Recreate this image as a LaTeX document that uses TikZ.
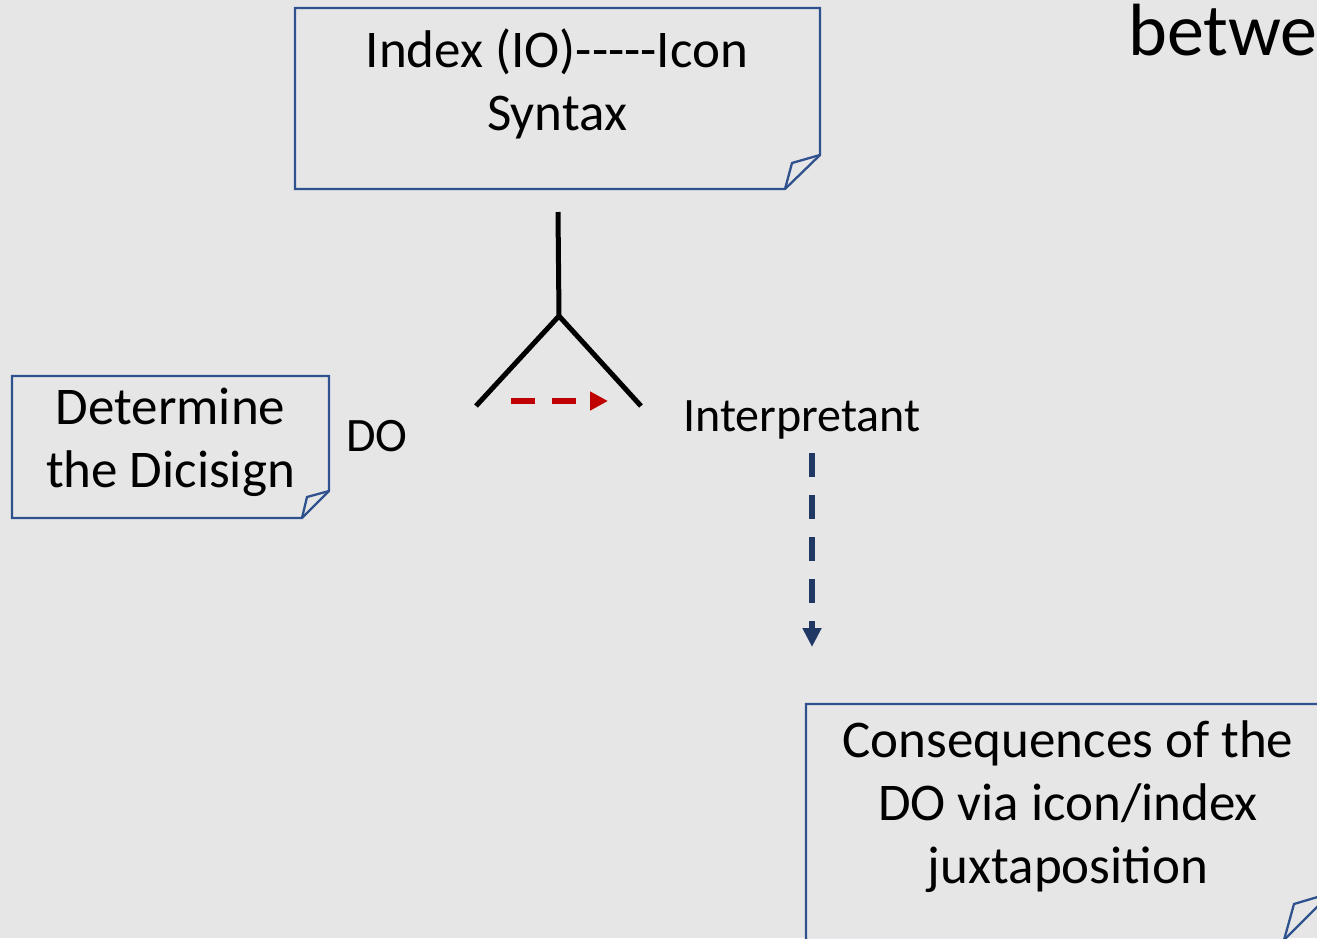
\documentclass[tikz,border=0pt]{standalone}
\usepackage{fontspec}
\setmainfont{Carlito}
\usetikzlibrary{arrows.meta}
\definecolor{bgc}{HTML}{E7E6E6}
\definecolor{boxblue}{HTML}{2F528F}
\definecolor{navyarrow}{HTML}{1F3864}
\definecolor{darkred}{HTML}{C00000}
\tikzset{
  boxline/.style={draw=boxblue, line width=2.3pt, line join=miter},
  bigtext/.style={font=\fontsize{53}{63}\selectfont, inner sep=0pt, anchor=base},
  smalltext/.style={font=\fontsize{48}{57}\selectfont, inner sep=0pt, anchor=base},
  yline/.style={draw=black, line width=5pt},
  redarrow/.style={draw=darkred, line width=5.5pt, dash pattern=on 24pt off 17pt,
    -{Triangle[length=18pt,width=18pt]}},
  bluearrow/.style={draw=navyarrow, line width=6pt, dash pattern=on 24pt off 18pt,
    -{Triangle[length=19pt,width=18pt]}},
}
\newcommand{\mlines}[1]{\begin{tabular}[t]{@{}c@{}}#1\end{tabular}}
\begin{document}
\begin{tikzpicture}[x=1pt,y=-1pt]
\useasboundingbox[fill=bgc] (0,0) rectangle (1317,938);

% Box 1
\draw[boxline] (295,8) -- (820,8) -- (820,155) -- (785,189) -- (295,189) -- cycle;
\draw[boxline] (785,189) -- (792,163) -- (820,155);
\node[bigtext] (syntax) at (557,67) {\mlines{Index (IO)-{}-{}-{}-{}-Icon\\Syntax}};

% Box 2
\draw[boxline] (12,376) -- (329,376) -- (329,491) -- (302,518) -- (12,518) -- cycle;
\draw[boxline] (302,518) -- (307,497) -- (329,491);
\node[bigtext] (dicisign) at (170.5,424) {\mlines{Determine\\the Dicisign}};

% Box 3
\draw[boxline] (806,704) -- (1331,704) -- (1331,893) -- (1284,940) -- (806,940) -- cycle;
\draw[boxline] (1284,940) -- (1294,904) -- (1331,893);
\node[bigtext] (conseq) at (1068,757) {\mlines{Consequences of the\\DO via icon/index\\juxtaposition}};

% Labels
\node[smalltext] (do) at (377,451) {DO};
\node[smalltext] (interp) at (802,431) {Interpretant};
\node[font=\fontsize{74}{88}\selectfont, inner sep=0pt, anchor=base west] (betwe) at (1128,55) {betwe};

% Y shape (sign triad)
\coordinate (ytop) at (558,212);
\coordinate (yjoin) at (559,316);
\coordinate (yleft) at (476,406);
\coordinate (yright) at (641,406);
\draw[yline] (ytop) -- (yjoin);
\draw[yline] (yleft) -- (yjoin) -- (yright);

% Arrows
\coordinate (rstart) at (511,401);
\coordinate (rend) at (608,401);
\draw[redarrow] (rstart) -- (rend);
\coordinate (bstart) at (812,453);
\coordinate (bend) at (812,647);
\draw[bluearrow] (bstart) -- (bend);
\end{tikzpicture}
\end{document}
